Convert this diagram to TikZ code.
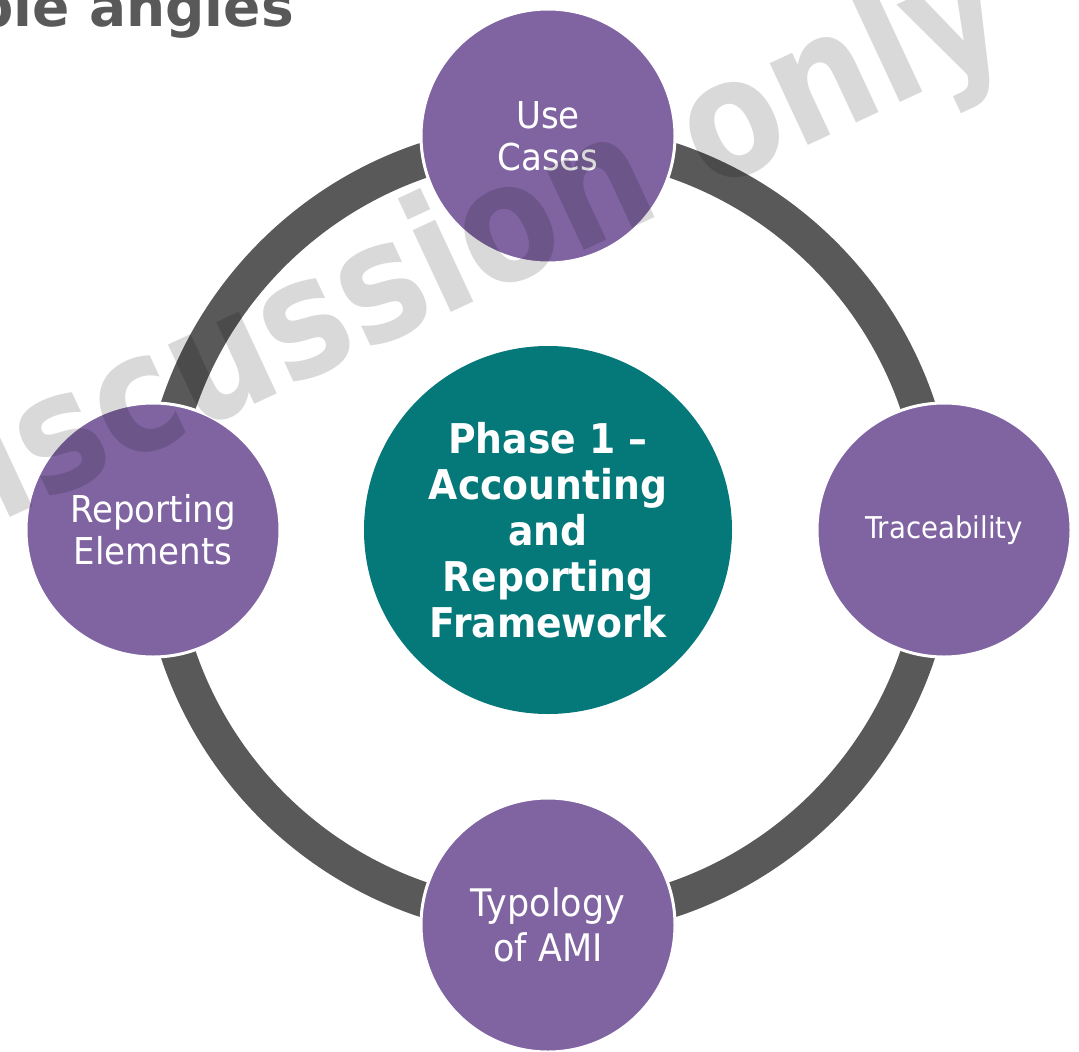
\documentclass[tikz,border=0pt]{standalone}
\usepackage{fontspec}
\newfontfamily\tf{DejaVu Sans}[FakeStretch=0.92]
\newfontfamily\wf{DejaVu Sans}[FakeStretch=0.86]
\newfontfamily\hf{DejaVu Sans}
\definecolor{purp}{HTML}{8064A2}
\definecolor{tealc}{HTML}{057879}
\definecolor{ringc}{HTML}{595959}
\definecolor{tgray}{HTML}{595959}
\begin{document}
\begin{tikzpicture}[x=1pt,y=-1pt,
  bubble/.style={circle, fill=purp, draw=white, line width=3pt, minimum size=254pt,
    inner sep=0pt, text=white, align=center},
  hub/.style={circle, fill=tealc, minimum size=368pt, inner sep=0pt, text=white,
    align=center, font=\tf\bfseries\fontsize{41}{46}\selectfont},
  ringline/.style={draw=ringc, line width=35pt},
  lbl/.style={font=\tf\fontsize{37}{42}\selectfont}]
\useasboundingbox (0,0) rectangle (1079,1052);
\clip (0,0) rectangle (1079,1052);
\coordinate (o) at (548,530);
\draw[ringline] (o) circle[radius=390pt];
\node[hub] (hub) at (o) {Phase 1 –\\Accounting\\and\\Reporting\\Framework};
\node[bubble, lbl] (use) at (548,136) {Use\\Cases};
\node[bubble, lbl] (rep) at (153,530) {Reporting\\Elements};
\node[bubble, font=\tf\fontsize{30}{36}\selectfont] (tra) at (944,530) {Traceability};
\node[bubble, font=\tf\fontsize{38}{45}\selectfont] (typ) at (548,925) {Typology\\of AMI};
\node[anchor=base east, inner sep=0pt, text=tgray,
  font=\hf\bfseries\fontsize{55}{60}\selectfont] (title) at (294,27) {ble angles};
\node[anchor=base west, inner sep=0pt, rotate=25, text=black, text opacity=0.15,
  font=\wf\bfseries\fontsize{165}{165}\selectfont] (wm) at (-93,566) {discussion only};
\end{tikzpicture}
\end{document}
